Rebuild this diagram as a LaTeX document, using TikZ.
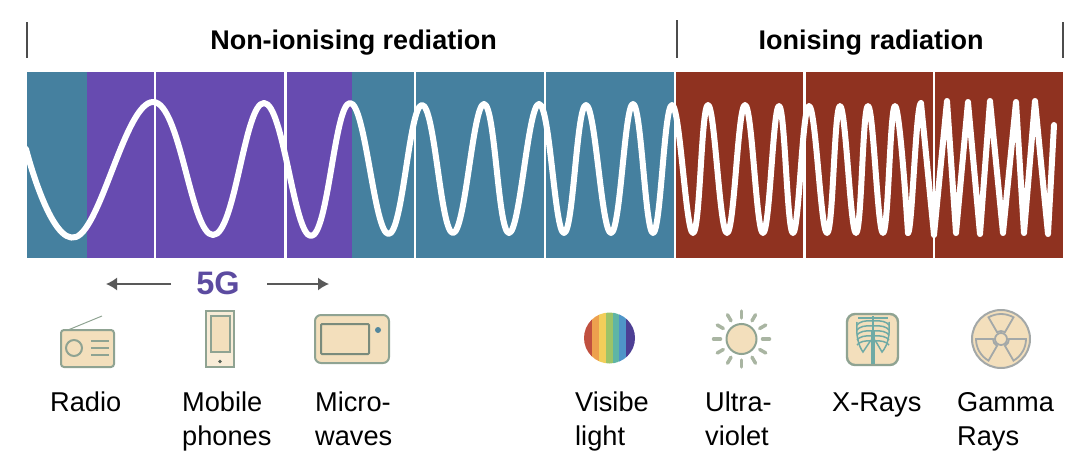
\documentclass[tikz,border=0pt]{standalone}
\usepackage{fontspec}
\setmainfont{Liberation Sans}
\usetikzlibrary{arrows.meta,calc}
\definecolor{teal1}{HTML}{45809F}
\definecolor{purp1}{HTML}{674BB0}
\definecolor{red1}{HTML}{8F3220}
\definecolor{creamf}{HTML}{F3DFBC}
\definecolor{iconl}{HTML}{8FA392}
\definecolor{rayc}{HTML}{A9B5A2}
\definecolor{ribc}{HTML}{6FAAA5}
\definecolor{fiveg}{HTML}{5C4BA0}
\definecolor{trefc}{HTML}{A3A8A8}
\definecolor{rb1}{HTML}{C0503F}
\definecolor{rb2}{HTML}{EDA04E}
\definecolor{rb3}{HTML}{F2CE5A}
\definecolor{rb4}{HTML}{9CC368}
\definecolor{rb5}{HTML}{5FB5A5}
\definecolor{rb6}{HTML}{4F95C8}
\definecolor{rb7}{HTML}{4D3F94}
\tikzset{
  sepline/.style={white,line width=2.8pt},
  wave/.style={white,line width=6pt,line cap=round,line join=round},
  hdr/.style={font=\bfseries\fontsize{27}{30}\selectfont,anchor=base,inner sep=0pt},
  lab/.style={font=\fontsize{27.2}{30}\selectfont,anchor=base west,inner sep=0pt},
  tick/.style={draw=black!70,line width=1.4pt},
  garrow/.style={draw=black!65,line width=1.5pt,-{Latex[length=11pt,width=13pt]}},
  icon/.style={draw=iconl,line width=2pt,fill=creamf},
  ray/.style={rayc,line width=3.5pt,line cap=round},
  rib/.style={ribc,line width=1.5pt},
}
\begin{document}
\begin{tikzpicture}[x=1pt,y=-1pt]
\useasboundingbox (0,0) rectangle (1080,471);
% bands
\fill[teal1] (27,72) rectangle (675,258);
\fill[purp1] (86.5,72) rectangle (352,258);
\fill[red1] (675,72) rectangle (1063,258);
\foreach \x in {155,285.5,415,545,675,804.5,934} \draw[sepline] (\x,71) -- (\x,259);
% wave
\draw[wave] plot[smooth,tension=0.72] coordinates {(26,149) (76,237) (153,102) (213,235) (264,103) (311,236) (350,103) (388.5,234) (422,105) (453,233) (484,104) (509,233) (539,104) (564,233) (586,105) (611,233) (633,104) (653,233) (672,105) (693,233) (708,105) (727,233) (745,105) (763,233) (779,106) (793,233) (809,106) (827,233) (840,106) (856,233) (868,106) (883,233) (895,106) (908,233)};
\draw[wave] (908,233) .. controls (912,233) and (916,103) .. (921,103) -- (934,235) -- (947,101) -- (956,233) -- (968,102) -- (980,234) -- (990,101) -- (1003,233) -- (1016,102) -- (1024,233) -- (1035,101) -- (1048,234) -- (1054,125);
% header
\draw[tick] (27,22) -- (27,58);
\draw[tick] (677,20) -- (677,58);
\draw[tick] (1063,22) -- (1063,58);
\node[hdr] (nonion) at (353.5,49) {Non-ionising rediation};
\node[hdr] (ion) at (871,49) {Ionising radiation};
% 5G
\node[inner sep=0pt,text=fiveg,font=\bfseries\fontsize{32.5}{34}\selectfont] (fiveg) at (218,283) {5G};
\coordinate (al) at (106,284); \coordinate (ar) at (329,284);
\coordinate (bl) at (171,284); \coordinate (br) at (267,284);
\draw[garrow] (bl) -- (al);
\draw[garrow] (br) -- (ar);
% radio
\draw[iconl,line width=1pt] (68,330) -- (102,316);
\draw[icon,rounded corners=3pt] (61,330) rectangle (114,367);
\draw[iconl,line width=2pt] (74,348) circle (8);
\draw[iconl,line width=2pt] (91,341) -- (109,341) (91,348) -- (109,348) (91,355) -- (109,355);
% phone
\draw[icon,fill=creamf!60!white] (206,311) rectangle (234,367);
\draw[icon] (211,316) rectangle (230,352);
\fill[iconl!60!black] (220,361.5) circle (1.8);
% tablet
\draw[icon,rounded corners=6pt] (315,315) rectangle (389,363);
\draw[icon,rounded corners=1pt,draw=iconl!85!black] (321,324) rectangle (369,354);
\fill[teal1!80!iconl] (378,330) circle (3);
% rainbow
\begin{scope}
\clip (609.5,338) circle (25.5);
\fill[rb1] (584,312) rectangle (592,364);
\fill[rb2] (592,312) rectangle (599,364);
\fill[rb3] (599,312) rectangle (606,364);
\fill[rb4] (606,312) rectangle (613,364);
\fill[rb5] (613,312) rectangle (619,364);
\fill[rb6] (619,312) rectangle (626,364);
\fill[rb7] (626,312) rectangle (636,364);
\end{scope}
% sun
\foreach \a in {0,30,...,330}
  \draw[ray] ($(741.5,339)+(\a:21)$) -- ($(741.5,339)+(\a:28)$);
\draw[icon,line width=2pt] (741.5,339) circle (15);
% x-ray
\draw[icon,line width=2.4pt,rounded corners=8pt] (847,314) rectangle (898,365);
\draw[ribc,line width=3.5pt] (873,330) -- (873,364);
\draw[ribc,line width=1.8pt] (873,316) -- (873,332);
\draw[rib] (858,318) -- (888,318);
\foreach \y in {321,326,331,336,341} {
  \draw[rib] (873,\y) .. controls (865,\y-1) and (859,\y+1) .. (857,\y+4);
  \draw[rib] (873,\y) .. controls (881,\y-1) and (887,\y+1) .. (889,\y+4);
}
\draw[rib] (857,322) .. controls (856,335) and (858,345) .. (863,352) -- (871,340);
\draw[rib] (889,322) .. controls (890,335) and (888,345) .. (882,352) -- (875,340);
% gamma
\draw[icon,draw=trefc,line width=2pt] (1001,339) circle (29);
\foreach \a in {270,150,30}
  \draw[trefc,line width=1.8pt] ($(1001,339)+({\a-30}:8)$) -- ($(1001,339)+({\a-30}:25)$)
    arc[start angle={-(\a-30)},delta angle=-60,radius=25pt]
    -- ($(1001,339)+({\a+30}:8)$) arc[start angle={-(\a+30)},delta angle=60,radius=8pt] -- cycle;
\draw[trefc,line width=1.8pt,fill=creamf] (1001,339) circle (6);
% labels
\node[lab] (l1) at (50,411) {Radio};
\node[lab] (l2) at (182,411) {Mobile};
\node[lab] (l2b) at (182,445) {phones};
\node[lab] (l3) at (315,411) {Micro-};
\node[lab] (l3b) at (315,445) {waves};
\node[lab] (l4) at (575,411) {Visibe};
\node[lab] (l4b) at (575,445) {light};
\node[lab] (l5) at (705,411) {Ultra-};
\node[lab] (l5b) at (705,445) {violet};
\node[lab] (l6) at (832,411) {X-Rays};
\node[lab] (l7) at (957,411) {Gamma};
\node[lab] (l7b) at (957,445) {Rays};
\end{tikzpicture}
\end{document}
